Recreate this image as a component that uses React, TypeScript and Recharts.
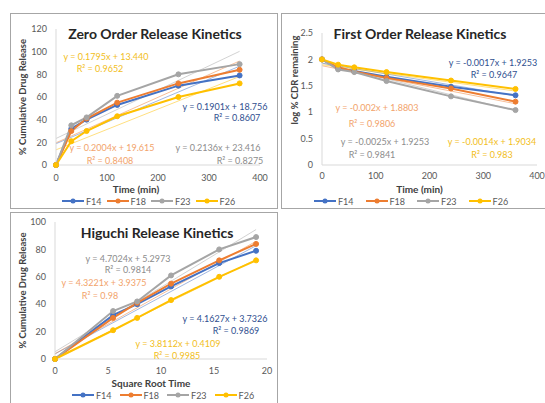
import React from 'react';
import { LineChart, Line, XAxis, YAxis, Legend, Label } from 'recharts';

const FONT = 'Lato, "Open Sans", sans-serif';

const seriesNames = ['F14', 'F18', 'F23', 'F26'];
const seriesColors = ['#4472C4', '#ED7D31', '#A5A5A5', '#FFC000'];
const equationColors = ['#2F4F8F', '#F2A36B', '#8C8C8C', '#F2BE1A'];

// cumulative % drug release (zero order + higuchi)
const timeMin = [0, 30, 60, 120, 240, 360];
const sqrtTime = [0, 5.48, 7.75, 10.95, 15.49, 18.97];
const f14Release = [0, 32, 40, 53, 70, 79];
const f18Release = [0, 30, 41, 55, 72, 84];
const f23Release = [0, 35, 42, 61, 80, 89];
const f26Release = [0, 21, 30, 43, 60, 72];

// log % remaining (first order)
const f14LogRemaining = [2, 1.83, 1.78, 1.67, 1.48, 1.32];
const f18LogRemaining = [2, 1.85, 1.77, 1.65, 1.45, 1.2];
const f23LogRemaining = [2, 1.81, 1.76, 1.59, 1.3, 1.04];
const f26LogRemaining = [2, 1.9, 1.85, 1.76, 1.6, 1.44];

// trendline ends, read at the first and last x
const zeroTrendStart = [18.8, 19.6, 23.4, 13.4];
const zeroTrendEnd = [87.2, 91.8, 100.3, 78.1];
const firstTrendStart = [1.93, 1.88, 1.93, 1.9];
const firstTrendEnd = [1.31, 1.16, 1.03, 1.4];
const higuchiTrendStart = [3.7, 3.9, 5.3, 0.4];
const higuchiTrendEnd = [82.7, 85.9, 94.5, 72.7];

const timeTicks = [0, 100, 200, 300, 400];
const sqrtTicks = [0, 5, 10, 15, 20];
const zeroTicksY = [0, 20, 40, 60, 80, 100, 120];
const firstTicksY = [0, 0.5, 1, 1.5, 2, 2.5];
const higuchiTicksY = [0, 20, 40, 60, 80, 100];

const zeroEquations = ['y = 0.1901x + 18.756', 'y = 0.2004x + 19.615', 'y = 0.2136x + 23.416', 'y = 0.1795x + 13.440'];
const zeroR2 = ['R² = 0.8607', 'R² = 0.8408', 'R² = 0.8275', 'R² = 0.9652'];
const firstEquations = ['y = -0.0017x + 1.9253', 'y = -0.002x + 1.8803', 'y = -0.0025x + 1.9253', 'y = -0.0014x + 1.9034'];
const firstR2 = ['R² = 0.9647', 'R² = 0.9806', 'R² = 0.9841', 'R² = 0.983'];
const higuchiEquations = ['y = 4.1627x + 3.7326', 'y = 4.3221x + 3.9375', 'y = 4.7024x + 5.2973', 'y = 3.8112x + 0.4109'];
const higuchiR2 = ['R² = 0.9869', 'R² = 0.98', 'R² = 0.9814', 'R² = 0.9985'];

// label placement on the page: [eqX, eqY, r2X, r2Y]
const zeroEqPos = [[225, 107, 237, 118], [112, 148, 110, 161], [218, 148, 240, 161], [106, 57, 100, 69]];
const firstEqPos = [[493, 63, 494, 75], [377, 108, 372, 124], [385, 142, 372, 155], [492, 142, 492, 155]];
const higuchiEqPos = [[225, 319, 236, 331], [104, 283, 100, 296], [128, 259, 128, 270], [178, 344, 177, 356]];

const buildRows = (xs: number[], cols: number[][]) =>
  xs.map((x, i) => {
    const row: any = { x };
    seriesNames.forEach((n, s) => (row[n] = cols[s][i]));
    return row;
  });

const tickStyle = { fontSize: 9, fill: '#595959', fontFamily: FONT };

function KineticsChart(props: any) {
  const {
    left, top, width, height, margin, yWidth, xTickMargin, rows, trendX, trendStart, trendEnd,
    xDomain, xTicks, yDomain, yTicks, xTitle, xTitleDx, yTitle, yTitleX, yTitleDy, legendLeft, legendGap,
  } = props;

  const legend = () => (
    <div style={{ display: 'flex', alignItems: 'center', height: 12, paddingLeft: legendLeft, fontFamily: FONT, fontSize: 9, color: '#595959' }}>
      {seriesNames.map((n, i) => (
        <div key={n} style={{ display: 'flex', alignItems: 'center', marginRight: legendGap }}>
          <svg width={22} height={8}>
            <line x1={0} y1={4} x2={22} y2={4} stroke={seriesColors[i]} strokeWidth={2} />
            <circle cx={11} cy={4} r={2.5} fill={seriesColors[i]} />
          </svg>
          <span style={{ marginLeft: 2 }}>{n}</span>
        </div>
      ))}
    </div>
  );

  return (
    <div style={{ position: 'absolute', left, top }}>
      <LineChart width={width} height={height} data={rows} margin={margin}>
        <XAxis
          type="number"
          dataKey="x"
          domain={xDomain}
          ticks={xTicks}
          interval={0}
          height={30}
          tickLine={false}
          tickMargin={xTickMargin}
          axisLine={{ stroke: '#D9D9D9' }}
          tick={tickStyle}
        >
          <Label
            content={({ viewBox }: any) => (
              <text
                x={viewBox.x + viewBox.width / 2 + xTitleDx}
                y={viewBox.y + 24}
                textAnchor="middle"
                dominantBaseline="central"
                fontFamily={FONT}
                fontSize={10}
                fontWeight="bold"
                fill="#404040"
              >
                {xTitle}
              </text>
            )}
          />
        </XAxis>
        <YAxis
          type="number"
          domain={yDomain}
          ticks={yTicks}
          interval={0}
          width={yWidth}
          tickLine={false}
          tickMargin={3}
          axisLine={{ stroke: '#D9D9D9' }}
          tick={tickStyle}
        >
          <Label
            content={({ viewBox }: any) => {
              const cx = viewBox.x + yTitleX;
              const cy = viewBox.y + viewBox.height / 2 + yTitleDy;
              return (
                <text
                  x={cx}
                  y={cy}
                  transform={`rotate(-90 ${cx} ${cy})`}
                  textAnchor="middle"
                  dominantBaseline="central"
                  fontFamily={FONT}
                  fontSize={9.5}
                  fontWeight="bold"
                  fill="#404040"
                >
                  {yTitle}
                </text>
              );
            }}
          />
        </YAxis>
        <Legend verticalAlign="bottom" height={12} content={legend} />
        {seriesNames.map((n, i) => (
          <Line
            key={'trend' + n}
            data={[{ x: trendX[0], t: trendStart[i] }, { x: trendX[1], t: trendEnd[i] }]}
            dataKey="t"
            stroke={seriesColors[i]}
            strokeWidth={1}
            strokeOpacity={0.5}
            dot={false}
            legendType="none"
            isAnimationActive={false}
          />
        ))}
        {seriesNames.map((n, i) => (
          <Line
            key={n}
            type="linear"
            dataKey={n}
            stroke={seriesColors[i]}
            strokeWidth={2}
            dot={{ r: 2.5, fill: seriesColors[i], stroke: seriesColors[i], strokeWidth: 1 }}
            isAnimationActive={false}
          />
        ))}
      </LineChart>
    </div>
  );
}

function Equations({ texts, r2, pos }: any) {
  return (
    <>
      {seriesNames.map((n, i) => (
        <React.Fragment key={n}>
          {[[texts[i], pos[i][0], pos[i][1]], [r2[i], pos[i][2], pos[i][3]]].map(([t, x, y]: any) => (
            <div
              key={t}
              style={{
                position: 'absolute', left: x, top: y, transform: 'translate(-50%, -50%)', lineHeight: '10px',
                whiteSpace: 'nowrap', fontFamily: FONT, fontSize: 9, color: equationColors[i],
              }}
            >
              {t}
            </div>
          ))}
        </React.Fragment>
      ))}
    </>
  );
}

const Title = ({ text, x, y }: any) => (
  <div
    style={{
      position: 'absolute', left: x, top: y, transform: 'translate(-50%, -50%)', whiteSpace: 'nowrap',
      fontFamily: FONT, fontSize: 14, fontWeight: 'bold', color: '#262626',
    }}
  >
    {text}
  </div>
);

const boxStyle = (left: number, top: number, w: number, h: number): React.CSSProperties => ({
  position: 'absolute', left, top, width: w, height: h, border: '1.5px solid #A6A6A6', boxSizing: 'border-box',
});

export default function App() {
  const zeroRows = buildRows(timeMin, [f14Release, f18Release, f23Release, f26Release]);
  const firstRows = buildRows(timeMin, [f14LogRemaining, f18LogRemaining, f23LogRemaining, f26LogRemaining]);
  const higuchiRows = buildRows(sqrtTime, [f14Release, f18Release, f23Release, f26Release]);

  return (
    <div style={{ position: 'absolute', left: 0, top: 0, width: 545, height: 403, background: '#fff', overflow: 'hidden' }}>
      <div style={boxStyle(10, 13, 268, 196)} />
      <div style={boxStyle(281, 13, 270, 196)} />
      <div style={boxStyle(10, 212, 268, 200)} />

      <KineticsChart
        left={10} top={13} width={268} height={196}
        margin={{ top: 16, right: 18, left: 0, bottom: 2 }} yWidth={46} xTickMargin={4}
        rows={zeroRows} trendX={[0, 360]} trendStart={zeroTrendStart} trendEnd={zeroTrendEnd}
        xDomain={[0, 400]} xTicks={timeTicks} yDomain={[0, 120]} yTicks={zeroTicksY}
        xTitle="Time (min)" xTitleDx={-22} yTitle="% Cumulative Drug Release" yTitleX={12} yTitleDy={0}
        legendLeft={52} legendGap={5}
      />
      <KineticsChart
        left={281} top={13} width={264} height={196}
        margin={{ top: 20, right: 8, left: 0, bottom: 2 }} yWidth={41} xTickMargin={2}
        rows={firstRows} trendX={[0, 360]} trendStart={firstTrendStart} trendEnd={firstTrendEnd}
        xDomain={[0, 400]} xTicks={timeTicks} yDomain={[0, 2.5]} yTicks={firstTicksY}
        xTitle="Time (min)" xTitleDx={-10} yTitle="log % CDR remaining" yTitleX={13} yTitleDy={-19}
        legendLeft={33} legendGap={12}
      />
      <KineticsChart
        left={10} top={213} width={268} height={190}
        margin={{ top: 9, right: 11, left: 0, bottom: 2 }} yWidth={45} xTickMargin={3}
        rows={higuchiRows} trendX={[0, 18.97]} trendStart={higuchiTrendStart} trendEnd={higuchiTrendEnd}
        xDomain={[0, 20]} xTicks={sqrtTicks} yDomain={[0, 100]} yTicks={higuchiTicksY}
        xTitle="Square Root Time" xTitleDx={-10} yTitle="% Cumulative Drug Release" yTitleX={12} yTitleDy={0}
        legendLeft={62} legendGap={8}
      />

      <Title text="Zero Order Release Kinetics" x={155} y={33} />
      <Title text="First Order Release Kinetics" x={420} y={33} />
      <Title text="Higuchi Release Kinetics" x={157} y={232} />

      <Equations texts={zeroEquations} r2={zeroR2} pos={zeroEqPos} />
      <Equations texts={firstEquations} r2={firstR2} pos={firstEqPos} />
      <Equations texts={higuchiEquations} r2={higuchiR2} pos={higuchiEqPos} />
    </div>
  );
}
